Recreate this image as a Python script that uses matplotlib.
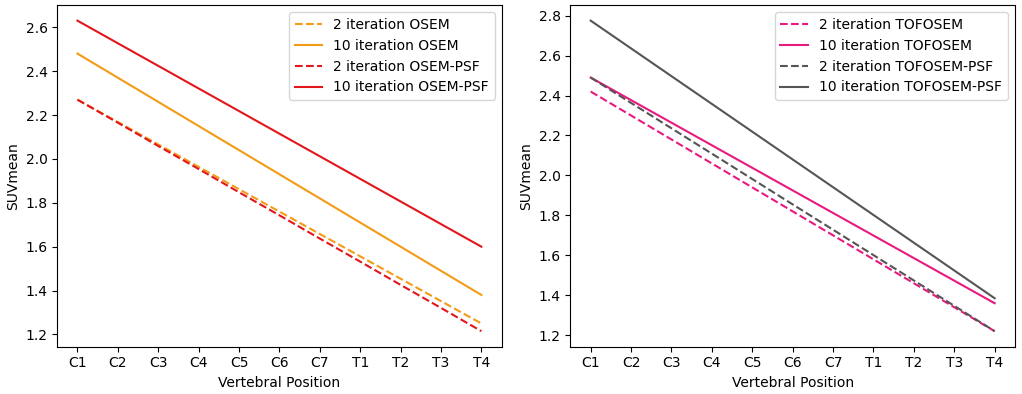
import matplotlib
matplotlib.use('Agg')
import matplotlib.pyplot as plt

# Posiciones vertebrales
posiciones = ['C1', 'C2', 'C3', 'C4', 'C5', 'C6', 'C7', 'T1', 'T2', 'T3', 'T4']

# SUVmean (panel izquierdo)
osem_2 = [2.270, 2.168, 2.066, 1.964, 1.862, 1.760, 1.658, 1.556, 1.454, 1.352, 1.250]
osem_10 = [2.48, 2.37, 2.26, 2.15, 2.04, 1.93, 1.82, 1.71, 1.60, 1.49, 1.38]
osem_psf_2 = [2.270, 2.165, 2.059, 1.954, 1.848, 1.743, 1.637, 1.532, 1.426, 1.321, 1.215]
osem_psf_10 = [2.630, 2.527, 2.424, 2.321, 2.218, 2.115, 2.012, 1.909, 1.806, 1.703, 1.600]

# SUVmean (panel derecho)
tof_2 = [2.42, 2.30, 2.18, 2.06, 1.94, 1.82, 1.70, 1.58, 1.46, 1.34, 1.22]
tof_10 = [2.490, 2.377, 2.264, 2.151, 2.038, 1.925, 1.812, 1.699, 1.586, 1.473, 1.360]
tof_psf_2 = [2.490, 2.363, 2.236, 2.109, 1.982, 1.855, 1.728, 1.601, 1.474, 1.347, 1.220]
tof_psf_10 = [2.775, 2.636, 2.497, 2.358, 2.219, 2.080, 1.941, 1.802, 1.663, 1.524, 1.385]

naranja = '#f29b16'
rojo = '#e3161b'
rosa = '#e8197f'
gris = '#555555'

fig, (ax1, ax2) = plt.subplots(1, 2, figsize=(10.22, 3.94), dpi=100)
fig.subplots_adjust(left=0.056, right=0.993, top=0.987, bottom=0.12, wspace=0.155)

x = list(range(len(posiciones)))

ax1.plot(x, osem_2, '--', color=naranja, lw=1.5, label='2 iteration OSEM')
ax1.plot(x, osem_10, '-', color=naranja, lw=1.5, label='10 iteration OSEM')
ax1.plot(x, osem_psf_2, '--', color=rojo, lw=1.5, label='2 iteration OSEM-PSF')
ax1.plot(x, osem_psf_10, '-', color=rojo, lw=1.5, label='10 iteration OSEM-PSF')

ax2.plot(x, tof_2, '--', color=rosa, lw=1.5, label='2 iteration TOFOSEM')
ax2.plot(x, tof_10, '-', color=rosa, lw=1.5, label='10 iteration TOFOSEM')
ax2.plot(x, tof_psf_2, '--', color=gris, lw=1.5, label='2 iteration TOFOSEM-PSF')
ax2.plot(x, tof_psf_10, '-', color=gris, lw=1.5, label='10 iteration TOFOSEM-PSF')

for ax in (ax1, ax2):
    ax.set_xticks(x)
    ax.set_xticklabels(posiciones)
    ax.set_xlabel('Vertebral Position')
    ax.set_ylabel('SUVmean')
    ax.legend(loc='upper right')

plt.savefig('out.png', dpi=100)
